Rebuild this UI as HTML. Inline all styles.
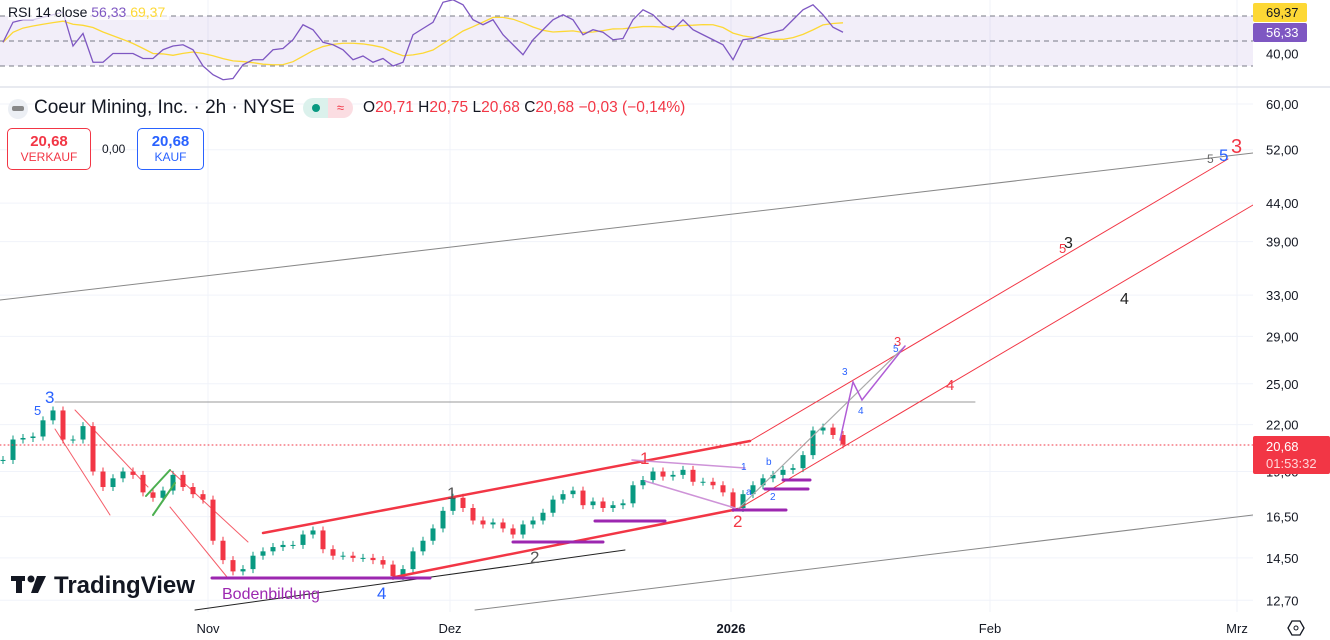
<!DOCTYPE html>
<html><head><meta charset="utf-8"><style>
body{margin:0;width:1330px;height:640px;overflow:hidden;background:#fff;font-family:"Liberation Sans",sans-serif}
svg{position:absolute;left:0;top:0}
.hdr{position:absolute;font-size:17px;color:#131722}
</style></head><body>
<svg id="chart" width="1330" height="640">
  <g id="grid"></g>
  <g id="rsi"></g>
  <g id="candles"></g>
  <g id="draw" fill="none" stroke-linecap="round">
    <line x1="0" y1="300" x2="1253" y2="153" stroke="#888" stroke-width="1"/>
    <line x1="475" y1="610" x2="1253" y2="515" stroke="#888" stroke-width="1"/>
    <line x1="55" y1="402" x2="975" y2="402" stroke="#999" stroke-width="1"/>
    <line x1="195" y1="610" x2="625" y2="550" stroke="#222" stroke-width="1"/>
    <line x1="263" y1="533" x2="750" y2="441" stroke="#f23645" stroke-width="2.5"/>
    <line x1="390" y1="578" x2="738" y2="509" stroke="#f23645" stroke-width="2.5"/>
    <line x1="750" y1="441" x2="1228" y2="159" stroke="#f23645" stroke-width="1"/>
    <line x1="738" y1="509" x2="1253" y2="205" stroke="#f23645" stroke-width="1"/>
    <line x1="738" y1="509" x2="905" y2="346" stroke="#aaa" stroke-width="1.2"/>
    <polyline points="840,440 853,382 862,400 905,346" stroke="#b05cd6" stroke-width="1.5"/>
    <line x1="75" y1="410" x2="148" y2="487" stroke="#f23645" stroke-width="1" opacity=".8"/>
    <line x1="55" y1="429" x2="110" y2="515" stroke="#f23645" stroke-width="1" opacity=".8"/>
    <line x1="170" y1="470" x2="248" y2="542" stroke="#f23645" stroke-width="1" opacity=".8"/>
    <line x1="170" y1="507" x2="227" y2="577" stroke="#f23645" stroke-width="1" opacity=".8"/>
    <line x1="146" y1="496" x2="170" y2="470" stroke="#4caf50" stroke-width="2"/>
    <line x1="153" y1="515" x2="175" y2="483" stroke="#4caf50" stroke-width="2"/>
    <g stroke="#9c27b0" stroke-width="3">
      <line x1="212" y1="578" x2="430" y2="578"/>
      <line x1="513" y1="542" x2="603" y2="542"/>
      <line x1="595" y1="521" x2="665" y2="521"/>
      <line x1="733" y1="510" x2="786" y2="510"/>
      <line x1="765" y1="489" x2="808" y2="489"/>
      <line x1="783" y1="480" x2="810" y2="480"/>
    </g>
    <line x1="632" y1="460" x2="745" y2="468" stroke="#ce93d8" stroke-width="1.5"/>
    <line x1="645" y1="481" x2="735" y2="508" stroke="#ce93d8" stroke-width="1.5"/>
    <line x1="0" y1="445" x2="1253" y2="445" stroke="#f23645" stroke-width="1" stroke-dasharray="1,3"/>
  </g>
  <g font-family="Liberation Sans, sans-serif">
    <text x="45" y="403" font-size="17" fill="#2962ff">3</text>
    <text x="34" y="415" font-size="13" fill="#2962ff">5</text>
    <text x="447" y="499" font-size="17" fill="#555">1</text>
    <text x="530" y="563" font-size="17" fill="#555">2</text>
    <text x="377" y="599" font-size="17" fill="#2962ff">4</text>
    <text x="640" y="464" font-size="17" fill="#f23645">1</text>
    <text x="733" y="527" font-size="17" fill="#f23645">2</text>
    <text x="741" y="470" font-size="10" fill="#2962ff">1</text>
    <text x="746" y="495" font-size="10" fill="#2962ff">a</text>
    <text x="766" y="465" font-size="10" fill="#2962ff">b</text>
    <text x="770" y="500" font-size="10" fill="#2962ff">2</text>
    <text x="842" y="375" font-size="10" fill="#2962ff">3</text>
    <text x="858" y="414" font-size="10" fill="#2962ff">4</text>
    <text x="894" y="346" font-size="13" fill="#f23645">3</text>
    <text x="893" y="352" font-size="10" fill="#2962ff">5</text>
    <text x="946" y="390" font-size="15" fill="#f23645">4</text>
    <text x="1064" y="248" font-size="16" fill="#222">3</text>
    <text x="1059" y="253" font-size="13" fill="#f23645">5</text>
    <text x="1120" y="304" font-size="16" fill="#222">4</text>
    <text x="1207" y="163" font-size="12" fill="#666">5</text>
    <text x="1219" y="161" font-size="17" fill="#2962ff">5</text>
    <text x="1231" y="153" font-size="20" fill="#f23645">3</text>
    <text x="222" y="599" font-size="16" fill="#9c27b0">Bodenbildung</text>
  </g>
  <g>
    <rect x="11" y="576" width="14" height="5" fill="#131722"/><rect x="16" y="576" width="6" height="17" fill="#131722"/>
    <circle cx="31" cy="579" r="3.5" fill="#131722"/><polygon points="37,576 46,576 38,593 31,593" fill="#131722"/>
    <text x="54" y="593" font-size="24" font-weight="bold" fill="#131722">TradingView</text>
  </g>
  <rect x="1253" y="0" width="77" height="640" fill="#fff"/>
  <line x1="0" y1="87" x2="1330" y2="87" stroke="#e0e3eb" stroke-width="1.5"/>
  <g id="axis" font-size="13" fill="#131722"></g>
  <rect x="1253" y="3" width="54" height="19" fill="#fdd835" rx="2"/>
  <text x="1266" y="17" font-size="13" fill="#131722">69,37</text>
  <rect x="1253" y="23" width="54" height="19" fill="#7e57c2" rx="2"/>
  <text x="1266" y="37" font-size="13" fill="#fff">56,33</text>
  <rect x="1253" y="436" width="77" height="38" fill="#f23645" rx="2"/>
  <text x="1266" y="451" font-size="13" fill="#fff">20,68</text>
  <text x="1266" y="468" font-size="13" fill="#ffd6d9">01:53:32</text>
  <g><polygon points="1288,628 1292,621 1300,621 1304,628 1300,635 1292,635" fill="none" stroke="#131722" stroke-width="1.3"/><circle cx="1296" cy="628" r="2" fill="none" stroke="#131722"/></g>
</svg>
<div class="hdr" style="left:8px;top:4px;font-size:14px;background:rgba(255,255,255,.7);padding-right:4px">RSI 14 close <span style="color:#7e57c2">56,33</span> <span style="color:#fdd835">69,37</span></div>
<div style="position:absolute;left:8px;top:99px;width:20px;height:20px;border-radius:50%;background:#eceff4"><div style="margin:7px 4px;width:12px;height:5px;background:#888;border-radius:2px"></div></div>
<div class="hdr" style="left:34px;top:97px;font-size:19px">Coeur Mining, Inc. · 2h · NYSE</div>
<div style="position:absolute;left:303px;top:98px;width:50px;height:20px;border-radius:10px;overflow:hidden;display:flex"><div style="width:25px;background:#dbf1ec;position:relative"><div style="position:absolute;left:9px;top:6px;width:8px;height:8px;border-radius:50%;background:#089981"></div></div><div style="width:25px;background:#fbdde2;color:#f23645;text-align:center;font-size:13px;line-height:20px">≈</div></div>
<div class="hdr" style="left:363px;top:99px;font-size:15.5px">O<span style="color:#f23645">20,71</span> H<span style="color:#f23645">20,75</span> L<span style="color:#f23645">20,68</span> C<span style="color:#f23645">20,68 −0,03 (−0,14%)</span></div>
<div style="position:absolute;left:7px;top:128px;width:82px;height:40px;border:1px solid #f23645;border-radius:5px;text-align:center;color:#f23645;background:#fff"><div style="font-size:15px;font-weight:bold;margin-top:4px">20,68</div><div style="font-size:12px">VERKAUF</div></div>
<div class="hdr" style="left:102px;top:142px;font-size:12px">0,00</div>
<div style="position:absolute;left:137px;top:128px;width:65px;height:40px;border:1px solid #2962ff;border-radius:5px;text-align:center;color:#2962ff;background:#fff"><div style="font-size:15px;font-weight:bold;margin-top:4px">20,68</div><div style="font-size:12px">KAUF</div></div>
<script>
const closes=[19.7,21.0,21.1,21.2,22.3,23.0,21.0,21.0,21.9,19.0,18.1,18.6,19.0,18.8,17.8,17.5,17.9,18.8,18.1,17.7,17.4,15.3,14.4,13.9,14.0,14.6,14.8,15.0,15.1,15.1,15.6,15.8,14.9,14.6,14.6,14.5,14.5,14.4,14.2,13.7,14.0,14.8,15.3,15.9,16.8,17.5,16.95,16.3,16.1,16.2,15.9,15.6,16.1,16.3,16.7,17.4,17.7,17.9,17.1,17.3,16.95,17.1,17.2,18.2,18.5,19.0,18.7,18.8,19.1,18.4,18.4,18.2,17.8,16.95,17.7,18.2,18.6,18.8,19.1,19.2,20.0,21.6,21.8,21.3,20.68];
const rsiVals=[49,65,67,67,69,71,73,46,56,33,33,40,40,40,36,36,43,46,47,43,30,23,19,20,31,35,35,43,44,51,63,59,49,47,43,35,38,33,36,30,33,55,60,65,81,83,79,67,63,67,55,47,39,51,59,67,71,67,55,59,57,51,52,67,75,71,63,59,67,59,55,51,47,35,51,52,55,57,59,67,75,79,71,61,57];
const priceTicks=[60,52,44,39,33,29,25,22,19,16.5,14.5,12.7];
const rsiTicks=[40];
const monthLabels=["Nov","Dez","2026","Feb","Mrz"];
const monthX=[208,450,731,990,1237];
const NS="http://www.w3.org/2000/svg";
function mk(t,a,p){const e=document.createElementNS(NS,t);for(const k in a)e.setAttribute(k,a[k]);p.appendChild(e);return e;}
const xS=i=>3+i*10;
const yP=p=>104+(Math.log(60)-Math.log(p))*319.6;
const yR=v=>16+(70-v)*1.25;
const fmt=v=>v.toFixed(2).replace('.',',');
const grid=document.getElementById('grid'),axis=document.getElementById('axis');
priceTicks.forEach(p=>{const y=yP(p);mk('line',{x1:0,x2:1253,y1:y,y2:y,stroke:'#f0f3fa'},grid);
 const t=mk('text',{x:1266,y:y+5},axis);t.textContent=fmt(p);
 
 });
rsiTicks.forEach(v=>{const t=mk('text',{x:1266,y:yR(v)+5},axis);t.textContent=fmt(v);
 
 });
monthLabels.forEach((m,i)=>{mk('line',{x1:monthX[i],x2:monthX[i],y1:0,y2:612,stroke:'#f0f3fa'},grid);
 const t=mk('text',{x:monthX[i],y:633,'text-anchor':'middle','font-size':13,'font-weight':m==='2026'?'bold':'normal',fill:'#131722'},axis);t.textContent=m;
 
 });
const rg=document.getElementById('rsi');
mk('rect',{x:0,y:yR(70),width:1253,height:yR(30)-yR(70),fill:'#7e57c2','fill-opacity':0.1},rg);
[70,50,30].forEach(v=>mk('line',{x1:0,x2:1253,y1:yR(v),y2:yR(v),stroke:'#787b86','stroke-dasharray':'5,4'},rg));
const ma=rsiVals.map((v,i)=>{const s=rsiVals.slice(Math.max(0,i-8),i+1);return s.reduce((a,b)=>a+b,0)/s.length;});
let pr=rsiVals.map((v,i)=>xS(i)+','+yR(v)).join(' ');
let pm=ma.map((v,i)=>xS(i)+','+yR(v)).join(' ');
const ml=mk('polyline',{points:pm,fill:'none',stroke:'#fdd835','stroke-width':1.3},rg);


const rl=mk('polyline',{points:pr,fill:'none',stroke:'#7e57c2','stroke-width':1.3},rg);


const cg=document.getElementById('candles');
closes.forEach((c,i)=>{const o=i?closes[i-1]:c;const up=c>=o;const col=up?'#089981':'#f23645';
 const x=xS(i);const y1=yP(Math.max(o,c)),y2=yP(Math.min(o,c));
 mk('line',{x1:x,x2:x,y1:y1-4,y2:y2+4,stroke:col},cg);
 const r=mk('rect',{x:x-2.5,y:y1,width:5,height:Math.max(1,y2-y1),fill:col},cg);
 
 });
</script>
</body></html>
